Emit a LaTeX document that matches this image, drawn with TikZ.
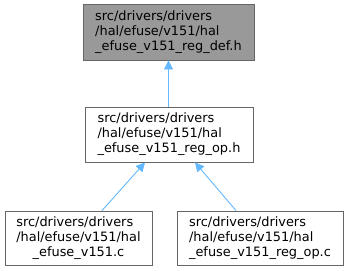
\documentclass[tikz,border=0pt]{standalone}
\usepackage{fontspec}
\setmainfont{DejaVu Sans}
\usetikzlibrary{arrows.meta}
\definecolor{edgeblue}{HTML}{63B8FF}
\definecolor{boxborder}{HTML}{666666}
\definecolor{boxgray}{HTML}{999999}
\newcommand{\threelines}[3]{\begin{tabular}{@{}l@{}}#1\\#2\\\multicolumn{1}{@{}c@{}}{#3}\end{tabular}}
\tikzset{
  filebox/.style={draw=boxborder, fill=white, line width=0.9pt, inner sep=0pt, anchor=center,
    font=\fontsize{12.9}{15}\selectfont, text=black},
  dep/.style={draw=edgeblue, line width=0.9pt, -{Triangle[length=9pt,width=9pt]}}
}
\begin{document}
\begin{tikzpicture}[x=1pt,y=-1pt]
\useasboundingbox (0,0) rectangle (349,271);
\node[filebox, fill=boxgray, minimum width=171pt, minimum height=56pt] (def) at (168.5,32)
  {\threelines{src/drivers/drivers}{/hal/efuse/v151/hal}{\_efuse\_v151\_reg\_def.h}};
\node[filebox, minimum width=168pt, minimum height=55pt] (oph) at (169,134.5)
  {\threelines{src/drivers/drivers}{/hal/efuse/v151/hal}{\_efuse\_v151\_reg\_op.h}};
\node[filebox, minimum width=147pt, minimum height=54pt] (c1) at (78.5,238)
  {\threelines{src/drivers/drivers}{/hal/efuse/v151/hal}{\_efuse\_v151.c}};
\node[filebox, minimum width=166pt, minimum height=54pt] (c2) at (260,238)
  {\threelines{src/drivers/drivers}{/hal/efuse/v151/hal}{\_efuse\_v151\_reg\_op.c}};
\draw[dep] (oph.north -| def.south) -- (def.south);
\draw[dep] (c1.north -| 102,0) -- (oph.south -| 145,0);
\draw[dep] (c2.north -| 236,0) -- (oph.south -| 195,0);
\end{tikzpicture}
\end{document}
